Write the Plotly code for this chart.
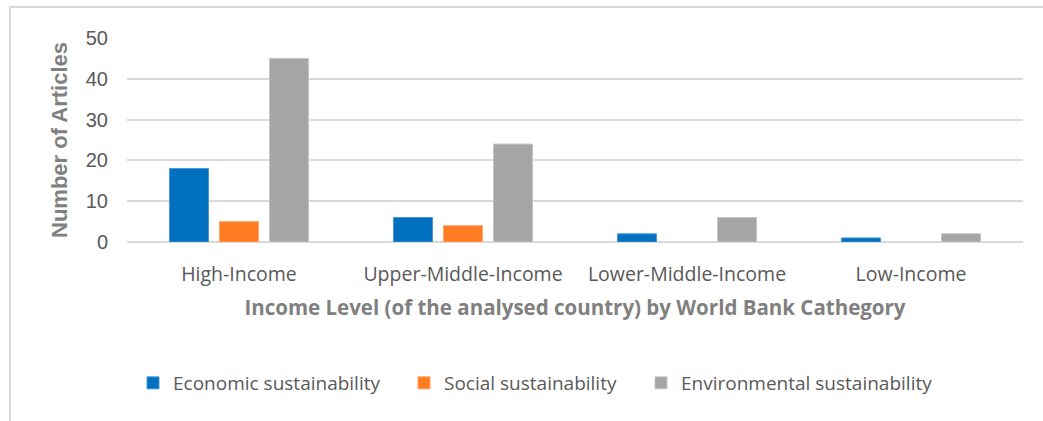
import plotly.graph_objects as go

# Income groups (World Bank) and article counts per sustainability dimension
categories = ["High-Income", "Upper-Middle-Income", "Lower-Middle-Income", "Low-Income"]
economic = [18, 6, 2, 1]
social = [5, 4, 0, 0]
environmental = [45, 24, 6, 2]

series = [
    ("Economic sustainability", economic, "#0070C0", "#4A95D6", "legend"),
    ("Social sustainability", social, "#FF7C22", "#FFA468", "legend2"),
    ("Environmental sustainability", environmental, "#A5A5A5", "#C4C4C4", "legend3"),
]

W, H = 1043, 421
L, R, T, B = 127, 20, 38, 179
pw, ph = W - L - R, H - T - B


def px_x(p):
    return (p - L) / pw


def px_y(p):
    return (H - B - p) / ph


grey_text = "#595959"
title_grey = "#808080"

fig = go.Figure()
for name, vals, color, edge, lg in series:
    fig.add_trace(go.Bar(
        x=categories, y=vals, name=name, legend=lg,
        marker=dict(color=color,
                    line=dict(color=edge, width=[1 if v else 0 for v in vals])),
    ))


def legend_at(x_px):
    return dict(
        orientation="h",
        x=px_x(x_px), xanchor="left",
        y=px_y(383), yanchor="middle",
        font=dict(family="Open Sans", size=19, color=grey_text),
        itemwidth=30, bgcolor="rgba(0,0,0,0)",
    )


fig.update_layout(
    width=W, height=H,
    margin=dict(l=L, r=R, t=T, b=B),
    paper_bgcolor="white", plot_bgcolor="white",
    barmode="group", bargap=0.33, bargroupgap=0.22,
    font=dict(family="Open Sans", color=grey_text),
    showlegend=True,
    legend=legend_at(133),
    legend2=legend_at(404),
    legend3=legend_at(641),
    xaxis=dict(
        showgrid=False, showline=False, zeroline=False,
        tickfont=dict(family="Open Sans", size=19.5, color=grey_text),
        title=dict(
            text="Income Level (of the analysed country) by World Bank Cathegory",
            font=dict(family="Open Sans", size=20.5, color=title_grey, weight="bold"),
            standoff=15,
        ),
        ticks="", ticklabelstandoff=18,
    ),
    yaxis=dict(
        range=[0, 50], tickvals=[0, 10, 20, 30, 40, 50],
        showgrid=True, gridcolor="#D9D9D9", gridwidth=2,
        zeroline=True, zerolinecolor="#D9D9D9", zerolinewidth=2,
        showline=False,
        tickfont=dict(family="Liberation Sans", size=20, color=grey_text),
        ticklabelstandoff=18,
        title=dict(
            text="Number of Articles",
            font=dict(family="Liberation Sans", size=22, color=title_grey, weight="bold"),
            standoff=12,
        ),
    ),
    shapes=[
        dict(
            type="rect", xref="paper", yref="paper",
            x0=px_x(10), x1=px_x(1100), y0=px_y(460), y1=px_y(7),
            line=dict(color="#D9D9D9", width=2), fillcolor="rgba(0,0,0,0)",
            layer="below",
        )
    ],
)

fig.write_html("out.html")
